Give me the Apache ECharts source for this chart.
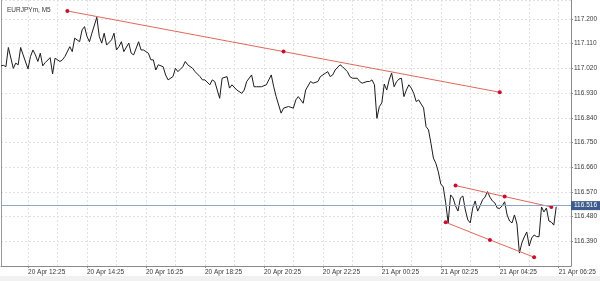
<!DOCTYPE html>
<html>
<head>
<meta charset="utf-8">
<script src="https://cdn.jsdelivr.net/npm/echarts@6/dist/echarts.min.js"></script>
<style>html,body{margin:0;padding:0;background:#fff}#c{width:600px;height:281px}</style>
</head>
<body>
<div id="c"></div>
<script>
// ---- data ----
const chartTitle = 'EURJPYm, M5';
const startDay = 20, startMonth = 'Apr', startMinutes = 11 * 60 + 30, barMinutes = 5, barCount = 233;
const tickLabels = ['20 Apr 12:25','20 Apr 14:25','20 Apr 16:25','20 Apr 18:25','20 Apr 20:25','20 Apr 22:25','21 Apr 00:25','21 Apr 02:25','21 Apr 04:25','21 Apr 06:25'];

// bar index (5-minute bars since 20 Apr 11:30) and close price
const closeBars = [0,1,2,3,5,6,7,8,9,11,12,13,14,15,16,17,18,20,21,22,24,25,26,28,29,30,32,33,34,35,36,37,39,40,41,42,43,45,46,47,48,49,50,52,53,54,56,57,58,60,61,62,63,64,66,67,68,70,71,72,74,75,76,78,79,81,82,83,85,86,87,89,90,92,93,94,96,98,99,100,102,103,104,106,108,109,110,111,112,114,115,117,119,120,121,123,124,126,127,129,130,132,133,134,135,136,138,139,141,142,143,145,146,147,149,150,151,152,153,154,155,156,157,158,159,160,161,162,163,164,165,166,167,168,169,170,171,172,173,174,175,176,177,178,179,180,181,182,183,184,185,186,187,188,189,190,191,192,193,194,195,196,197,198,199,200,201,202,203,204,205,206,207,208,209,210,211,212,213,214,215,216,217,218,219,220,221,222,223,224,225,226];
const closePrices = [117.029,117.031,117.026,117.096,117.020,117.039,117.033,117.096,117.069,117.018,117.063,117.087,117.069,117.045,117.075,117.029,117.041,117.059,117.000,117.057,117.045,117.051,117.063,117.099,117.081,117.130,117.117,117.160,117.172,117.136,117.117,117.148,117.206,117.136,117.112,117.148,117.105,117.124,117.148,117.087,117.099,117.117,117.081,117.112,117.075,117.069,117.117,117.087,117.087,117.075,117.051,117.051,117.014,117.033,117.026,116.996,116.978,116.990,117.020,117.008,117.026,117.045,117.033,117.020,117.008,116.990,116.978,116.978,116.960,116.978,116.972,116.911,116.984,116.990,116.948,116.960,116.941,116.929,116.941,116.972,116.996,116.953,116.953,116.953,116.960,116.978,116.996,116.953,116.917,116.857,116.875,116.881,116.875,116.905,116.917,116.893,116.941,116.972,116.966,116.972,116.990,117.002,117.008,116.990,116.996,117.014,117.033,117.026,117.008,116.990,116.984,116.984,116.972,116.966,116.972,116.972,116.978,116.960,116.838,116.881,116.894,116.963,116.941,116.978,117.003,116.953,116.971,116.981,116.984,116.917,116.941,116.960,116.948,116.929,116.899,116.905,116.890,116.876,116.808,116.796,116.747,116.693,116.674,116.643,116.599,116.588,116.530,116.457,116.559,116.548,116.519,116.500,116.548,116.555,116.504,116.468,116.457,116.511,116.537,116.500,116.519,116.541,116.551,116.571,116.551,116.537,116.530,116.511,116.510,116.519,116.534,116.486,116.464,116.457,116.486,116.453,116.347,116.384,116.406,116.424,116.373,116.402,116.413,116.407,116.407,116.515,116.497,116.511,116.464,116.460,116.449,116.516];

// trend lines (anchor bar index / price)
const trendTopBars = [27, 115, 203];
const trendTopPrices = [117.229, 117.081, 116.933];
const channelUpperBars = [185, 205, 224];
const channelUpperPrices = [116.593, 116.553, 116.515];
const channelLowerBars = [181, 199, 217];
const channelLowerPrices = [116.459, 116.395, 116.332];

const lastPrice = 116.516;
const priceMin = 116.30, priceMax = 117.269, priceStep = 0.09;

// ---- build ----
const pad = n => String(n).padStart(2, '0');
const times = [];
for (let i = 0; i < barCount; i++) {
  const t = startMinutes + i * barMinutes;
  const d = startDay + Math.floor(t / 1440);
  const m = t % 1440;
  times.push(d + ' ' + startMonth + ' ' + pad(Math.floor(m / 60)) + ':' + pad(m % 60));
}
const pairs = (xs, ys) => xs.map((x, i) => [x, ys[i]]);

const FONT = 'Liberation Sans';
const TXT = '#3a3a3a';
const trendStyle = (bars, prices) => ({
  type: 'line', data: pairs(bars, prices), silent: true,
  symbol: 'circle', symbolSize: 4, showAllSymbol: true,
  itemStyle: { color: '#c8102e' },
  lineStyle: { color: '#e0685c', width: 1 },
  z: 4
});

const chart = echarts.init(document.getElementById('c'), null, { renderer: 'canvas' });
chart.setOption({
  animation: false,
  backgroundColor: '#fff',
  textStyle: { fontFamily: FONT },
  title: { text: chartTitle, left: 2, top: 2, textStyle: { fontSize: 6.5, fontWeight: 'normal', color: TXT, fontFamily: FONT } },
  graphic: [{ type: 'rect', shape: { x: 0, y: 276, width: 600, height: 5 }, style: { fill: '#f1f1f1' }, z: -10 }],
  grid: { left: 1, right: 29, top: 0, bottom: 15, containLabel: false },
  xAxis: {
    type: 'category', data: times, boundaryGap: false,
    axisLine: { lineStyle: { color: '#8a8a8a', width: 1 } },
    axisTick: { show: true, length: 2, interval: (i, v) => tickLabels.includes(v), lineStyle: { color: '#8a8a8a' } },
    axisLabel: { interval: (i, v) => tickLabels.includes(v), align: 'left', margin: 3, fontSize: 6.5, color: TXT, fontFamily: FONT, hideOverlap: false },
    splitLine: { show: true, interval: (i, v) => v.endsWith(':25'), lineStyle: { color: '#e2e2e2', type: [2, 2], width: 1 } }
  },
  yAxis: [{
    type: 'value', position: 'right', min: priceMin, max: priceMax, interval: priceStep, scale: true,
    axisLine: { show: true, lineStyle: { color: '#8a8a8a', width: 1 } },
    axisTick: { show: true, length: 2, lineStyle: { color: '#8a8a8a' } },
    axisLabel: { showMinLabel: false, showMaxLabel: false, margin: 3, fontSize: 6.5, color: TXT, fontFamily: FONT, formatter: v => v.toFixed(3) },
    splitLine: { show: true, lineStyle: { color: '#e2e2e2', type: [2, 2], width: 1 } }
  }, {
    type: 'value', position: 'left', min: priceMin, max: priceMax, interval: priceStep,
    axisLine: { show: true, lineStyle: { color: '#9a9a9a', width: 1 } },
    axisTick: { show: false }, axisLabel: { show: false }, splitLine: { show: false }
  }],
  series: [
    {
      type: 'line', data: pairs(closeBars, closePrices), showSymbol: false, silent: true,
      lineStyle: { color: '#1c1c1c', width: 1 }, z: 3,
      markLine: {
        silent: true, symbol: 'none',
        lineStyle: { color: '#90a7c6', width: 1, type: 'solid' },
        label: { position: 'end', distance: 0, formatter: lastPrice.toFixed(3), color: '#fff', backgroundColor: '#3d5b8c', padding: [1, 3, 1, 3], fontSize: 6.5, fontFamily: FONT },
        data: [{ yAxis: lastPrice }]
      }
    },
    trendStyle(trendTopBars, trendTopPrices),
    trendStyle(channelUpperBars, channelUpperPrices),
    trendStyle(channelLowerBars, channelLowerPrices)
  ]
});
</script>
</body>
</html>
